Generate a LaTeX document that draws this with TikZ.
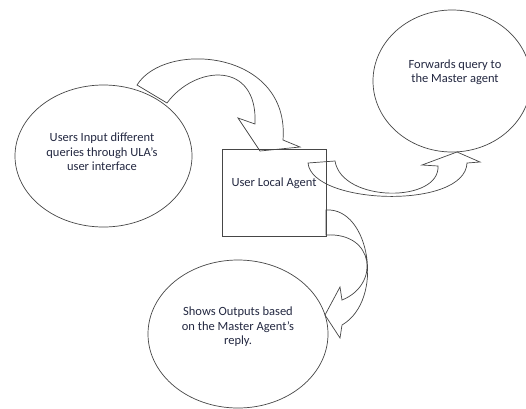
\documentclass[tikz,border=0pt]{standalone}
\usepackage{fontspec}
\setmainfont{Carlito}
\usetikzlibrary{shapes.geometric}
\definecolor{linec}{RGB}{70,70,70}
\definecolor{txtc}{RGB}{35,40,65}
\begin{document}
\begin{tikzpicture}[x=1pt,y=-1pt,
  shapeline/.style={draw=linec, line width=0.7pt},
  blob/.style={shapeline, ellipse, inner sep=0pt},
  lbl/.style={text=txtc, font=\fontsize{12.5}{14.5}\selectfont, align=center, inner sep=0pt},
  barrow/.style={shapeline, line join=miter}]
\useasboundingbox (0,0) rectangle (526,408);
\fill[white] (0,0) rectangle (526,408);
\clip (0,0) rectangle (526,408);
% shapes
\node[blob, minimum width=177pt, minimum height=142pt] (users) at (103.5,156) {};
\node[blob, minimum width=158pt, minimum height=142pt] (fwd) at (452,81) {};
\node[blob, minimum width=180pt, minimum height=148pt] (outs) at (238,334) {};
\node[shapeline, minimum width=104pt, minimum height=87pt, inner sep=0pt] (ula) at (274,192.5) {};
% texts
\node[lbl] (userst) at (102,152) {Users Input different\\queries through ULA’s\\user interface};
\node[lbl] (ulat) at (274,183) {User Local Agent};
\node[lbl] (fwdt) at (455,72) {Forwards query to\\the Master agent};
\node[lbl] (outst) at (238,327) {Shows Outputs based\\on the Master Agent’s\\reply.};
% curved block arrows
\draw[barrow] (137,85) .. controls (165,40) and (290,50) .. (283,140)
  -- (300,147) -- (260,151) -- (238,118) -- (255,124)
  .. controls (258,60) and (195,65) .. (167,103) -- cycle;
\draw[barrow] (308,163) .. controls (312,205) and (465,210) .. (467,163)
  -- (480,162) -- (457,152) -- (422,165) -- (438,166)
  .. controls (440,203) and (342,203) .. (335,161) -- cycle;
\draw[barrow] (326,210) .. controls (370,207) and (385,300) .. (342,325)
  -- (340,338) -- (325,315) -- (340,287) -- (342,300)
  .. controls (380,285) and (375,232) .. (326,235) -- cycle;
\end{tikzpicture}
\end{document}
